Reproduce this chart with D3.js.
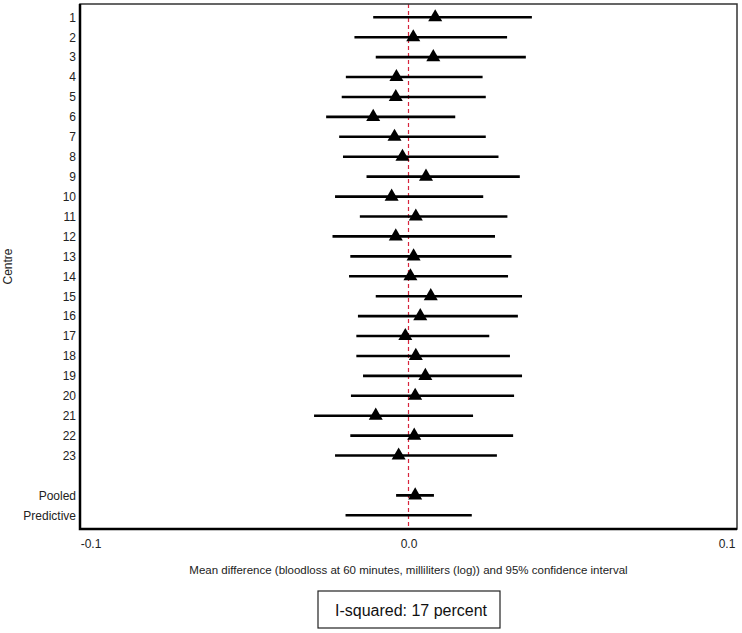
<!DOCTYPE html>
<html><head><meta charset="utf-8">
<script src="https://cdn.jsdelivr.net/npm/d3@7/dist/d3.min.js"></script>
<style>body{margin:0;background:#fff;}svg{display:block;font-family:"Liberation Sans",Arial,sans-serif;}</style>
</head><body><svg id="c" width="742" height="633"></svg>
<script>
const categories = ["1","2","3","4","5","6","7","8","9","10","11","12","13","14","15","16","17","18","19","20","21","22","23"," ","Pooled","Predictive"];
const estimates = [0.0084,0.0015,0.0078,-0.0038,-0.0040,-0.0111,-0.0044,-0.0019,0.0055,-0.0053,0.0023,-0.0040,0.0016,0.0006,0.0070,0.0037,-0.0010,0.0023,0.0053,0.0021,-0.0103,0.0018,-0.0031,null,0.0021,null];
const lower = [-0.0111,-0.0170,-0.0103,-0.0197,-0.0210,-0.0259,-0.0218,-0.0206,-0.0132,-0.0231,-0.0153,-0.0239,-0.0183,-0.0187,-0.0103,-0.0159,-0.0164,-0.0164,-0.0143,-0.0181,-0.0297,-0.0183,-0.0231,null,-0.0039,-0.0198];
const upper = [0.0388,0.0310,0.0369,0.0233,0.0243,0.0147,0.0243,0.0283,0.0350,0.0235,0.0311,0.0272,0.0324,0.0313,0.0357,0.0344,0.0254,0.0319,0.0357,0.0332,0.0203,0.0329,0.0278,null,0.0080,0.0199];
const xTicks = [-0.1, 0.0, 0.1];
const xTitle = "Mean difference (bloodloss at 60 minutes, milliliters (log)) and 95% confidence interval";
const yTitle = "Centre";
const note = "I-squared: 17 percent";

const rows = categories.map((c,i)=>({c, est:estimates[i], lo:lower[i], hi:upper[i]}));
const svg = d3.select("#c");
const L=80, R=737, T=4, B=529;
const x = d3.scaleLinear().domain([-0.1033,0.1033]).range([L,R]);
const y = d3.scalePoint().domain(categories).range([17.3,515.3]);

svg.append("line").attr("x1",x(0)).attr("x2",x(0)).attr("y1",T).attr("y2",B)
  .attr("stroke","#d8243c").attr("stroke-width",1.2).attr("stroke-dasharray","4,3");

svg.append("g").selectAll("line").data(rows.filter(d=>d.lo!==null)).join("line")
  .attr("x1",d=>x(d.lo)).attr("x2",d=>x(d.hi)).attr("y1",d=>y(d.c)).attr("y2",d=>y(d.c))
  .attr("stroke","#000").attr("stroke-width",2.6);

svg.append("g").selectAll("path").data(rows.filter(d=>d.est!==null)).join("path")
  .attr("d",d3.symbol(d3.symbolTriangle,85))
  .attr("transform",d=>`translate(${x(d.est)},${y(d.c)})`).attr("fill","#000");

svg.append("rect").attr("x",L).attr("y",T).attr("width",R-L).attr("height",B-T)
  .attr("fill","none").attr("stroke","#333").attr("stroke-width",1.5);
svg.append("path").attr("d",`M${L},${T}V${B}H${R}`).attr("fill","none").attr("stroke","#000").attr("stroke-width",2.5);

const ya = svg.append("g").attr("transform",`translate(${L},0)`)
  .call(d3.axisLeft(y).tickSize(0).tickPadding(4));
ya.select(".domain").remove();
ya.selectAll("text").attr("font-size",12).attr("fill","#222").attr("font-family","'Liberation Sans',Arial,sans-serif");

const xa = svg.append("g").attr("transform",`translate(0,${B})`)
  .call(d3.axisBottom(x).tickValues(xTicks).tickSize(0).tickPadding(10)
    .tickFormat(d=>d3.format(".1f")(d).replace("\u2212","-")));
xa.select(".domain").remove();
xa.selectAll("text").attr("font-size",12).attr("fill","#222").attr("font-family","'Liberation Sans',Arial,sans-serif");

svg.append("text").attr("x",x(0)).attr("y",574).attr("text-anchor","middle")
  .attr("font-size",11.5).attr("fill","#222").text(xTitle);
svg.append("text").attr("transform",`translate(12,${(T+B)/2}) rotate(-90)`).attr("text-anchor","middle")
  .attr("font-size",12).attr("fill","#222").text(yTitle);

svg.append("rect").attr("x",318).attr("y",591).attr("width",182).attr("height",37)
  .attr("fill","#fff").attr("stroke","#222").attr("stroke-width",1.2);
svg.append("text").attr("x",411).attr("y",616).attr("text-anchor","middle")
  .attr("font-size",16).attr("fill","#111").text(note);
</script></body></html>
